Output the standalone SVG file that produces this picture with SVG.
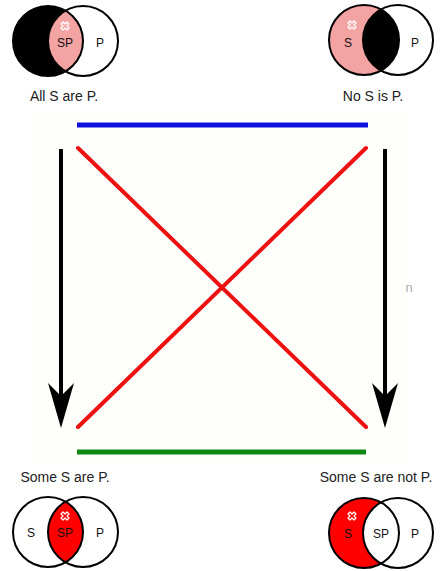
<svg xmlns="http://www.w3.org/2000/svg" width="444" height="571" viewBox="0 0 444 571">
<style>
.ring{fill:none;stroke:#000;stroke-width:2}
.lbl{font-family:"Liberation Sans",Arial,sans-serif;font-size:12px;fill:#111;text-anchor:middle}
.cap{font-family:"Liberation Sans",Arial,sans-serif;font-size:14px;fill:#222;text-anchor:middle}
.mark{fill:none;stroke:#fff;stroke-width:1.3;stroke-linejoin:round}
.red{stroke:#ee1111;stroke-width:4;stroke-linecap:round}
.arr{stroke:#000;stroke-width:4}
</style>
<defs>
<clipPath id="cTL"><circle cx="48" cy="41" r="35"/></clipPath>
<clipPath id="cTR"><circle cx="364" cy="40" r="35"/></clipPath>
<clipPath id="cBL"><circle cx="48" cy="532" r="35"/></clipPath>
<clipPath id="cBR"><circle cx="364" cy="533" r="35"/></clipPath>
<path id="x" d="M-2,-4 L0,-2 L2,-4 L4,-2 L2,0 L4,2 L2,4 L0,2 L-2,4 L-4,2 L-2,0 L-4,-2 Z"/>
</defs>
<rect width="444" height="571" fill="#fff"/>
<rect x="34" y="112" width="372" height="350" fill="#fefefb"/>

<g id="all-s-are-p">
<circle cx="48" cy="41" r="35" fill="#000"/>
<circle cx="83" cy="41" r="35" fill="#fff"/>
<circle cx="83" cy="41" r="35" fill="#f4a3a3" clip-path="url(#cTL)"/>
<circle class="ring" cx="48" cy="41" r="35"/>
<circle class="ring" cx="83" cy="41" r="35"/>
<use href="#x" class="mark" x="65" y="26"/>
<text class="lbl" x="65" y="47">SP</text>
<text class="lbl" x="100" y="47">P</text>
<text class="cap" x="64" y="101">All S are P.</text>
</g>

<g id="no-s-is-p">
<circle cx="364" cy="40" r="35" fill="#f4a3a3"/>
<circle cx="398" cy="40" r="35" fill="#fff"/>
<circle cx="398" cy="40" r="35" fill="#000" clip-path="url(#cTR)"/>
<circle class="ring" cx="364" cy="40" r="35"/>
<circle class="ring" cx="398" cy="40" r="35"/>
<use href="#x" class="mark" x="352" y="25"/>
<text class="lbl" x="348" y="47">S</text>
<text class="lbl" x="415" y="47">P</text>
<text class="cap" x="373" y="101">No S is P.</text>
</g>

<g id="some-s-are-p">
<text class="cap" x="65" y="482">Some S are P.</text>
<circle cx="48" cy="532" r="35" fill="#fff"/>
<circle cx="83" cy="532" r="35" fill="#fff"/>
<circle cx="83" cy="532" r="35" fill="#ff0000" clip-path="url(#cBL)"/>
<circle class="ring" cx="48" cy="532" r="35"/>
<circle class="ring" cx="83" cy="532" r="35"/>
<use href="#x" class="mark" x="65" y="516"/>
<text class="lbl" x="31" y="537">S</text>
<text class="lbl" x="65" y="537">SP</text>
<text class="lbl" x="100" y="537">P</text>
</g>

<g id="some-s-are-not-p">
<text class="cap" x="376" y="482">Some S are not P.</text>
<circle cx="364" cy="533" r="35" fill="#ff0000"/>
<circle cx="398" cy="533" r="35" fill="#fff"/>
<circle class="ring" cx="364" cy="533" r="35"/>
<circle class="ring" cx="398" cy="533" r="35"/>
<use href="#x" class="mark" x="352" y="516"/>
<text class="lbl" x="348" y="538">S</text>
<text class="lbl" x="381" y="538">SP</text>
<text class="lbl" x="415" y="538">P</text>
</g>

<g id="connectors">
<line x1="77" y1="125" x2="368" y2="125" stroke="#1111dd" stroke-width="5"/>
<line x1="77" y1="452" x2="366" y2="452" stroke="#118811" stroke-width="5"/>
<line class="red" x1="78" y1="148" x2="366" y2="427"/>
<line class="red" x1="366" y1="148" x2="78" y2="427"/>
<line class="arr" x1="61" y1="149" x2="61" y2="400"/>
<polygon points="61,428 48,383 61,396 74,383" fill="#000"/>
<line class="arr" x1="385" y1="149" x2="385" y2="400"/>
<polygon points="385,428 372,383 385,396 398,383" fill="#000"/>
</g>
<text x="409" y="292" font-family="Liberation Sans,Arial,sans-serif" font-size="13" fill="#aaa" text-anchor="middle">n</text>
</svg>
